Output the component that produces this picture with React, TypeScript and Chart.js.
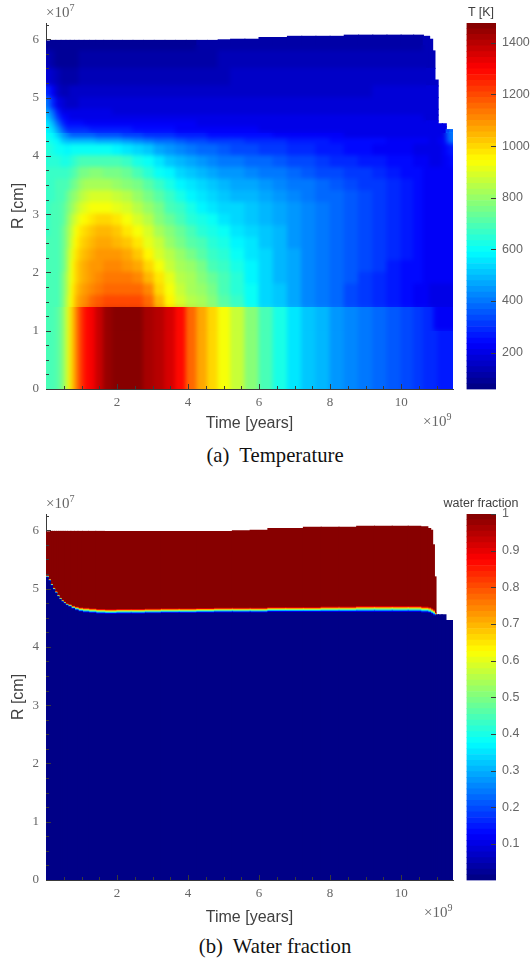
import React, { useEffect, useRef } from "react";
import { Chart, registerables } from "chart.js";

Chart.register(...registerables);

// ---- data (R in 1e7 cm, time in 1e9 years) ----
const times = [
  0.05, 0.2, 0.35, 0.5, 0.62, 0.74, 0.86, 1.0, 1.15, 1.3,
  1.5, 1.75, 2.0, 2.3, 2.6, 2.9, 3.2, 3.5, 3.8, 4.1,
  4.4, 4.7, 5.0, 5.4, 5.8, 6.2, 6.6, 7.0, 7.4, 7.8,
  8.2, 8.6, 9.0, 9.4, 9.8, 10.2, 10.5, 10.75, 10.85, 10.92,
  10.98, 11.1, 11.22, 11.32, 11.42,
];
const surface = [
  5.97, 5.98, 5.98, 5.98, 5.98, 5.98, 5.98, 5.98, 5.98, 5.98,
  5.98, 5.98, 5.98, 5.98, 5.98, 5.98, 5.98, 5.98, 5.98, 5.98,
  5.98, 5.98, 5.99, 6.0, 6.0, 6.03, 6.03, 6.05, 6.05, 6.05,
  6.05, 6.07, 6.07, 6.07, 6.07, 6.07, 6.07, 6.05, 6.0, 5.8,
  5.3, 4.55, 4.55, 4.45, 4.45,
];
const radiusEdges = [0, 1, 1.4, 1.6, 1.8, 2, 2.2, 2.4, 2.6, 2.8, 3, 3.2, 3.4, 3.6, 3.8, 4, 4.2, 4.3, 4.4, 4.5, 4.6, 4.7, 4.8, 5, 5.2, 5.5, 5.8, 6.2];
const temperature = [
  [680,690,720,780,880,1000,1100,1230,1290,1320, 1380,1440,1470,1477,1470,1420,1390,1360,1280,1160, 1070,1000,940,860,780,700,620,560,510,480, 450,420,400,375,350,330,320,300,290,285, 280,275,270,265,260],
  [680,690,720,780,880,1000,1100,1230,1290,1320, 1380,1440,1470,1477,1470,1420,1390,1360,1280,1160, 1070,1000,940,860,780,700,620,560,510,480, 450,420,400,375,350,330,320,300,280,260, 225,222,220,218,216],
  [680,690,700,760,860,960,1040,1090,1120,1150, 1170,1190,1200,1200,1190,1150,1050,950,890,850, 815,770,720,670,600,540,510,470,430,400, 370,340,310,290,260,240,225,215,210,210, 210,210,210,210,210],
  [680,685,695,750,850,950,1025,1070,1095,1120, 1140,1155,1165,1165,1150,1100,1010,925,870,830, 795,750,700,650,590,540,505,465,430,400, 372,345,315,295,265,245,230,218,212,212, 212,212,212,212,212],
  [680,685,695,745,840,935,1010,1050,1075,1095, 1110,1125,1130,1125,1100,1050,970,905,855,815, 775,730,680,640,580,535,500,462,430,402, 375,350,320,300,270,250,235,220,214,214, 214,214,214,214,214],
  [680,685,695,740,830,925,995,1035,1060,1080, 1095,1105,1105,1095,1060,1010,930,875,830,790, 745,700,660,620,575,530,498,460,430,403, 378,353,325,305,275,255,238,222,215,215, 215,215,215,215,215],
  [680,685,695,735,820,910,980,1020,1045,1065, 1080,1088,1085,1065,1020,965,895,845,800,755, 710,670,635,600,565,525,495,458,428,403, 380,355,330,310,280,258,240,224,216,216, 216,216,216,216,216],
  [680,685,695,730,810,895,960,1005,1030,1045, 1060,1065,1055,1030,975,920,860,810,765,720, 680,645,612,585,550,515,488,455,425,402, 380,358,333,312,283,262,242,226,217,217, 217,217,217,217,217],
  [675,680,690,725,795,870,930,975,1005,1025, 1040,1040,1020,985,930,880,825,775,730,690, 650,615,590,565,535,505,480,450,422,400, 380,358,335,315,286,264,245,228,218,218, 218,218,218,218,218],
  [675,680,690,720,775,840,895,940,965,985, 995,990,970,935,885,840,785,740,695,655, 620,590,565,545,520,495,472,445,418,398, 378,358,336,316,288,266,247,230,220,220, 220,220,220,220,220],
  [675,680,690,710,750,805,850,890,915,930, 938,935,915,885,840,800,745,700,660,620, 585,560,540,525,505,482,462,438,413,393, 375,356,336,316,289,268,248,232,222,222, 222,222,222,222,222],
  [670,675,680,700,725,770,805,840,865,880, 885,880,865,840,800,755,705,660,620,585, 555,535,515,500,485,468,450,428,405,386, 368,350,332,314,288,268,248,232,222,222, 222,222,222,222,222],
  [670,675,680,690,700,735,765,795,815,825, 830,825,810,785,750,705,660,615,580,550, 525,505,490,475,460,445,430,410,390,372, 355,340,322,306,284,264,245,230,222,222, 222,222,222,222,222],
  [665,665,665,665,670,695,720,745,760,770, 770,765,750,725,690,650,610,570,535,505, 485,470,455,440,425,410,395,378,360,345, 330,318,302,288,270,252,236,224,218,218, 218,218,218,218,218],
  [650,650,640,630,630,650,665,680,690,695, 695,690,680,660,630,595,555,515,485,460, 440,425,410,395,380,368,355,340,325,312, 300,288,275,265,250,236,225,215,212,212, 212,212,214,225,240],
  [640,630,610,590,585,590,595,600,600,600, 598,592,580,565,540,510,475,445,420,400, 385,370,355,340,328,315,305,295,282,272, 262,252,242,234,224,216,210,205,203,202, 202,205,215,235,260],
  [620,600,570,520,490,480,480,480,480,480, 478,470,460,445,425,405,385,368,352,340, 330,320,312,304,296,288,280,272,264,258, 252,246,240,235,228,222,218,214,212,212, 212,215,220,340,390],
  [600,570,515,440,390,365,355,350,350,350, 345,340,332,322,310,300,290,282,275,268, 262,256,250,245,240,235,230,226,222,218, 215,212,210,208,205,202,200,198,196,196, 196,198,205,360,400],
  [575,530,440,350,300,285,282,280,280,278, 275,270,265,260,252,246,240,235,230,226, 222,220,218,216,214,212,210,208,206,205, 204,203,202,201,200,198,196,194,192,192, 192,194,205,345,380],
  [550,490,370,280,245,240,238,236,234,232, 230,228,226,224,222,220,218,216,214,213, 212,211,210,209,208,207,206,205,204,203, 202,201,200,199,198,197,196,195,194,194, 194,200,205,205,205],
  [510,430,310,235,215,212,212,212,212,212, 212,212,210,208,206,204,203,202,201,200, 199,198,198,197,197,196,196,195,195,194, 194,193,193,192,192,191,191,190,190,190, 190,190,190,190,190],
  [470,370,260,205,195,192,192,192,192,192, 192,192,190,188,187,186,185,185,184,184, 184,183,183,183,183,182,182,182,182,182, 182,182,182,182,182,182,182,182,182,182, 182,182,182,182,182],
  [400,300,205,175,165,165,165,168,170,172, 175,175,175,175,175,175,175,175,175,175, 176,176,176,176,176,176,176,176,176,176, 176,176,176,176,176,176,176,176,176,176, 176,176,176,176,176],
  [290,215,160,145,145,148,150,152,155,157, 160,160,160,161,161,161,162,162,162,163, 163,163,164,164,164,165,165,165,166,166, 166,167,167,168,168,169,169,170,170,170, 170,170,170,170,170],
  [190,150,125,118,118,120,122,124,128,130, 132,134,135,136,137,138,139,140,141,142, 143,144,145,146,147,148,149,150,151,152, 153,153,154,154,155,155,156,156,156,156, 156,156,156,156,156],
  [125,110,100,97,96,98,100,102,104,106, 108,110,112,113,114,116,117,118,119,120, 122,123,124,125,126,128,129,130,131,132, 134,135,136,137,138,139,140,140,140,140, 140,140,140,140,140],
  [95,88,82,80,80,81,82,83,84,85, 86,88,90,92,94,96,97,98,99,100, 102,103,104,106,107,108,110,111,112,114, 115,116,118,119,120,122,123,124,124,124, 124,124,124,124,124],
];

const waterTimes = [
  0.03, 0.09, 0.15, 0.21, 0.27, 0.33, 0.39, 0.45, 0.51, 0.57,
  0.65, 0.75, 0.85, 0.95, 1.1, 1.3, 1.5, 1.8, 2.2, 2.6,
  3, 3.5, 4, 4.5, 5, 5.5, 6, 6.5, 7, 7.5,
  8, 8.5, 9, 9.5, 10, 10.4, 10.7, 10.8, 10.86, 10.91,
  10.96, 11.0, 11.1, 11.2, 11.32, 11.42,
];
const waterSurface = [
  5.97, 5.97, 5.98, 5.98, 5.98, 5.98, 5.98, 5.98, 5.98, 5.98,
  5.98, 5.98, 5.98, 5.98, 5.98, 5.98, 5.98, 5.98, 5.98, 5.98,
  5.98, 5.98, 5.98, 5.98, 5.98, 5.99, 6.0, 6.03, 6.03, 6.05,
  6.05, 6.05, 6.07, 6.07, 6.07, 6.07, 6.06, 6.03, 6.0, 5.75,
  5.2, 4.55, 4.55, 4.55, 4.45, 4.45,
];
const waterInterface = [
  5.2, 5.14, 5.06, 4.99, 4.93, 4.87, 4.82, 4.78, 4.75, 4.72,
  4.7, 4.67, 4.65, 4.63, 4.62, 4.61, 4.6, 4.595, 4.6, 4.6,
  4.605, 4.61, 4.61, 4.615, 4.62, 4.62, 4.62, 4.63, 4.63, 4.63,
  4.635, 4.635, 4.64, 4.64, 4.64, 4.64, 4.63, 4.62, 4.6, 4.58,
  4.55, 4.6, 4.6, 4.6, 4.6, 4.6,
];
const waterBandHalf = [
  0.015, 0.015, 0.015, 0.015, 0.015, 0.015, 0.015, 0.015, 0.015, 0.015,
  0.02, 0.025, 0.03, 0.035, 0.04, 0.04, 0.04, 0.04, 0.04, 0.04,
  0.04, 0.04, 0.04, 0.04, 0.04, 0.04, 0.04, 0.04, 0.04, 0.04,
  0.045, 0.045, 0.05, 0.05, 0.05, 0.05, 0.05, 0.05, 0.05, 0.05,
  0.03, 0.03, 0.03, 0.03, 0.03, 0.03,
];
const waterBandValues = [0.1, 0.3, 0.5, 0.7, 0.9];

const xMajorTicks = [2, 4, 6, 8, 10];
const xMinorTicks = [0.5, 1, 1.5, 2.5, 3, 3.5, 4.5, 5, 5.5, 6.5, 7, 7.5, 8.5, 9, 9.5, 10.5, 11];
const yMajorTicks = [0, 1, 2, 3, 4, 5, 6];
const yMinorTicks = [0.25, 0.5, 0.75, 1.25, 1.5, 1.75, 2.25, 2.5, 2.75, 3.25, 3.5, 3.75, 4.25, 4.5, 4.75, 5.25, 5.5, 5.75, 6.25];
const tempBarTicks = [200, 400, 600, 800, 1000, 1200, 1400];
const waterBarTicks = [0.1, 0.2, 0.3, 0.4, 0.5, 0.6, 0.7, 0.8, 0.9, 1];
const tempRange = [57, 1477];
const waterRange = [0, 1];
const X_MAX = 11.46;
const Y_MAX = 6.28;
// Softening zones of the temperature map: [tFrom, tTo, rFrom, rTo]
const softZones = [
  [0, 11.46, 0, 1],
  [0, 11.46, 1, 1.4],
  [0, 11.46, 1.4, 4.4],
  [0, 10.7, 4.4, 5.9],
];

// ---- helpers ----
const clamp = (v: number) => Math.max(0, Math.min(1, v));
function jet(value: number, range: number[]) {
  const f0 = clamp((value - range[0]) / (range[1] - range[0]));
  const f = (Math.min(63, Math.floor(f0 * 64)) + 0.5) / 64;
  const r = clamp(Math.min(4 * f - 1.5, -4 * f + 4.5));
  const g = clamp(Math.min(4 * f - 0.5, -4 * f + 3.5));
  const b = clamp(Math.min(4 * f + 0.5, -4 * f + 2.5));
  return `rgb(${Math.round(r * 255)},${Math.round(g * 255)},${Math.round(b * 255)})`;
}
const cellStyle = { stack: "cells", barThickness: "flex", categoryPercentage: 1, barPercentage: 1, borderWidth: 0, inflateAmount: 0.6 };

function temperatureDatasets() {
  return temperature.map((vals, i) => ({
    ...cellStyle,
    data: times.map((t, c) => {
      const lo = radiusEdges[i];
      const hi = Math.min(radiusEdges[i + 1], surface[c]);
      return { x: t, y: hi > lo ? [lo, hi] : [lo, lo] };
    }),
    backgroundColor: vals.map((v, c) => (radiusEdges[i] < surface[c] ? jet(v, tempRange) : "rgba(0,0,0,0)")),
  }));
}
function waterDatasets() {
  const band = (low: (c: number) => number, high: (c: number) => number, value: number) => ({
    ...cellStyle,
    data: waterTimes.map((t, c) => {
      const s = waterSurface[c];
      const lo = Math.min(low(c), s);
      const hi = Math.min(high(c), s);
      return { x: t, y: [lo, hi] };
    }),
    backgroundColor: waterTimes.map((_, c) =>
      Math.min(high(c), waterSurface[c]) > Math.min(low(c), waterSurface[c]) ? jet(value, waterRange) : "rgba(0,0,0,0)"
    ),
  });
  const sets = [band(() => 0, (c) => waterInterface[c] - waterBandHalf[c], 0)];
  waterBandValues.forEach((v, k) => {
    const n = waterBandValues.length;
    sets.push(
      band(
        (c) => waterInterface[c] - waterBandHalf[c] + (2 * waterBandHalf[c] * k) / n,
        (c) => waterInterface[c] - waterBandHalf[c] + (2 * waterBandHalf[c] * (k + 1)) / n,
        v
      )
    );
  });
  sets.push(band((c) => waterInterface[c] + waterBandHalf[c], () => 6.2, 1));
  return sets;
}
function colorbarDatasets(range: number[]) {
  const levels = Array.from({ length: 64 }, (_, i) => i);
  const step = (range[1] - range[0]) / 64;
  return levels.map((i) => ({
    stack: "levels",
    categoryPercentage: 1,
    barPercentage: 1,
    borderWidth: 0,
    data: [[range[0] + i * step, range[0] + (i + 1) * step]],
    backgroundColor: jet(range[0] + (i + 0.5) * step, range),
  }));
}

// Softens the drawn cells inside each zone (edge rows are repeated so no white bleeds in).
const softenCells = {
  id: "softenCells",
  afterDatasetsDraw(chart: any, _a: any, opts: any) {
    if (!opts.zones) return;
    const { ctx, scales, canvas } = chart;
    const pad = 12;
    opts.zones.forEach(([t0, t1, r0, r1]: number[]) => {
      const x0 = Math.round(Math.max(scales.x.getPixelForValue(t0), chart.chartArea.left));
      const x1 = Math.round(Math.min(scales.x.getPixelForValue(t1), chart.chartArea.right));
      const y1 = Math.round(scales.y.getPixelForValue(r0));
      const y0 = Math.round(scales.y.getPixelForValue(r1));
      const w = x1 - x0;
      const h = y1 - y0;
      const tmp = document.createElement("canvas");
      tmp.width = w + 2 * pad;
      tmp.height = h + 2 * pad;
      const t = tmp.getContext("2d")!;
      t.drawImage(canvas, x0, y0, w, 1, pad, 0, w, pad);
      t.drawImage(canvas, x0, y1 - 1, w, 1, pad, pad + h, w, pad);
      t.drawImage(canvas, x0, y0, w, h, pad, pad, w, h);
      t.drawImage(tmp, pad, 0, 1, h + 2 * pad, 0, 0, pad, h + 2 * pad);
      t.drawImage(tmp, pad + w - 1, 0, 1, h + 2 * pad, pad + w, 0, pad, h + 2 * pad);
      ctx.save();
      ctx.beginPath();
      ctx.rect(x0, y0, w, h);
      ctx.clip();
      ctx.filter = `blur(${opts.blur}px)`;
      ctx.drawImage(tmp, x0 - pad, y0 - pad);
      ctx.restore();
    });
  },
};

const inwardTicks = {
  id: "inwardTicks",
  afterDatasetsDraw(chart: any, _a: any, opts: any) {
    const { ctx, chartArea, scales } = chart;
    ctx.save();
    ctx.strokeStyle = "#3a3a3a";
    ctx.lineWidth = 1;
    const draw = (ticks: number[], len: number, horizontal: boolean) => {
      ticks.forEach((v) => {
        ctx.beginPath();
        if (horizontal) {
          const x = Math.round(scales.x.getPixelForValue(v)) + 0.5;
          ctx.moveTo(x, chartArea.bottom);
          ctx.lineTo(x, chartArea.bottom - len);
        } else {
          const y = Math.round(scales.y.getPixelForValue(v)) + 0.5;
          if (opts.right) {
            ctx.moveTo(chartArea.right, y);
            ctx.lineTo(chartArea.right - len, y);
          } else {
            ctx.moveTo(chartArea.left, y);
            ctx.lineTo(chartArea.left + len, y);
          }
        }
        ctx.stroke();
      });
    };
    if (opts.xMajor) draw(opts.xMajor, 5, true);
    if (opts.xMinor) draw(opts.xMinor, 3, true);
    if (opts.yMajor) draw(opts.yMajor, 5, false);
    if (opts.yMinor) draw(opts.yMinor, 3, false);
    ctx.restore();
  },
};

function Heatmap({ top, paddingTop, height, fit, datasets, zones }: any) {
  const ref = useRef<HTMLCanvasElement>(null);
  useEffect(() => {
    const chart = new Chart(ref.current!, {
      type: "bar",
      data: { datasets: datasets() },
      plugins: [softenCells, inwardTicks],
      options: {
        animation: false,
        responsive: false,
        layout: { padding: { top: paddingTop, right: 7, left: 0, bottom: 0 } },
        plugins: {
          legend: { display: false },
          tooltip: { enabled: false },
          softenCells: { zones, blur: 2 },
          inwardTicks: { xMajor: xMajorTicks, xMinor: xMinorTicks, yMajor: yMajorTicks, yMinor: yMinorTicks },
        },
        scales: {
          x: {
            type: "linear",
            min: 0,
            max: X_MAX,
            offset: false,
            grid: { display: false, drawTicks: false },
            border: { display: true, color: "#3a3a3a" },
            afterBuildTicks: (s: any) => { s.ticks = xMajorTicks.map((value) => ({ value })); },
            afterFit: (s: any) => { s.height = fit; },
            ticks: { padding: 6, maxRotation: 0, autoSkip: false, color: "#666", font: { family: "Liberation Serif", size: 13 }, callback: (v: any) => String(v) },
            title: { display: true, text: "Time [years]", color: "#404040", padding: 0, font: { family: "Liberation Sans", size: 16 } },
          },
          y: {
            type: "linear",
            min: 0,
            max: Y_MAX,
            stacked: false,
            grid: { display: false, drawTicks: false },
            border: { display: true, color: "#3a3a3a" },
            afterBuildTicks: (s: any) => { s.ticks = yMajorTicks.map((value) => ({ value })); },
            afterFit: (s: any) => { s.width = 46; },
            ticks: { padding: 7, autoSkip: false, color: "#666", font: { family: "Liberation Serif", size: 13 }, callback: (v: any) => String(v) },
            title: { display: true, text: "R [cm]", color: "#404040", padding: { top: 9, bottom: 0 }, font: { family: "Liberation Sans", size: 16 } },
          },
        },
      } as any,
    } as any);
    return () => chart.destroy();
  }, []);
  return <canvas ref={ref} width={460} height={height} style={{ position: "absolute", left: 0, top, display: "block" }} />;
}

function Colorbar({ top, paddingTop, height, range, ticks }: any) {
  const ref = useRef<HTMLCanvasElement>(null);
  useEffect(() => {
    const chart = new Chart(ref.current!, {
      type: "bar",
      data: { labels: [""], datasets: colorbarDatasets(range) },
      plugins: [inwardTicks],
      options: {
        animation: false,
        responsive: false,
        layout: { padding: { top: paddingTop, left: 6.5, right: 0, bottom: 0 } },
        plugins: { legend: { display: false }, tooltip: { enabled: false }, inwardTicks: { yMajor: ticks, right: true } },
        scales: {
          x: { display: false },
          y: {
            position: "right",
            min: range[0],
            max: range[1],
            stacked: false,
            grid: { display: false, drawTicks: false },
            border: { display: false },
            afterBuildTicks: (s: any) => { s.ticks = ticks.map((value: number) => ({ value })); },
            afterFit: (s: any) => { s.width = 34; },
            ticks: { padding: 6, autoSkip: false, color: "#666", font: { family: "Liberation Sans", size: 12.5 }, callback: (v: any) => String(v) },
          },
        },
      } as any,
    } as any);
    return () => chart.destroy();
  }, []);
  return <canvas ref={ref} width={70} height={height} style={{ position: "absolute", left: 460, top, display: "block" }} />;
}

function Label({ x, y, children, font, size, color, anchor }: any) {
  return (
    <div style={{ position: "absolute", left: x, top: y, transform: `translate(${anchor === "left" ? "0" : "-50%"},-50%)`, whiteSpace: "pre", fontFamily: font, fontSize: size, color, lineHeight: 1 }}>
      {children}
    </div>
  );
}

const SERIF = "'Liberation Serif', serif";
const SANS = "'Liberation Sans', sans-serif";
const sup = { fontSize: 10, verticalAlign: "super", lineHeight: 0 } as const;

export default function App() {
  return (
    <div style={{ position: "absolute", left: 0, top: 0, width: 530, height: 960, background: "#fff", overflow: "hidden" }}>
      <Heatmap top={0} paddingTop={23} height={433} fit={44} datasets={temperatureDatasets} zones={softZones} />
      <Colorbar top={0} paddingTop={23} height={403} range={tempRange} ticks={tempBarTicks} />
      <Heatmap top={490} paddingTop={24} height={437} fit={47} datasets={waterDatasets} />
      <Colorbar top={490} paddingTop={24} height={404} range={waterRange} ticks={waterBarTicks} />
      <Label x={46} y={12} anchor="left" font={SERIF} size={15} color="#666">×10<span style={sup}>7</span></Label>
      <Label x={423} y={421} anchor="left" font={SERIF} size={15} color="#666">×10<span style={sup}>9</span></Label>
      <Label x={46} y={503} anchor="left" font={SERIF} size={15} color="#666">×10<span style={sup}>7</span></Label>
      <Label x={424} y={912} anchor="left" font={SERIF} size={15} color="#666">×10<span style={sup}>9</span></Label>
      <Label x={481} y={12} font={SANS} size={12.5} color="#404040">T [K]</Label>
      <Label x={481} y={503} font={SANS} size={12.5} color="#404040">water fraction</Label>
      <Label x={275} y={455} font={SERIF} size={20.7} color="#111">(a)  Temperature</Label>
      <Label x={275} y={946} font={SERIF} size={20.7} color="#111">(b)  Water fraction</Label>
    </div>
  );
}
